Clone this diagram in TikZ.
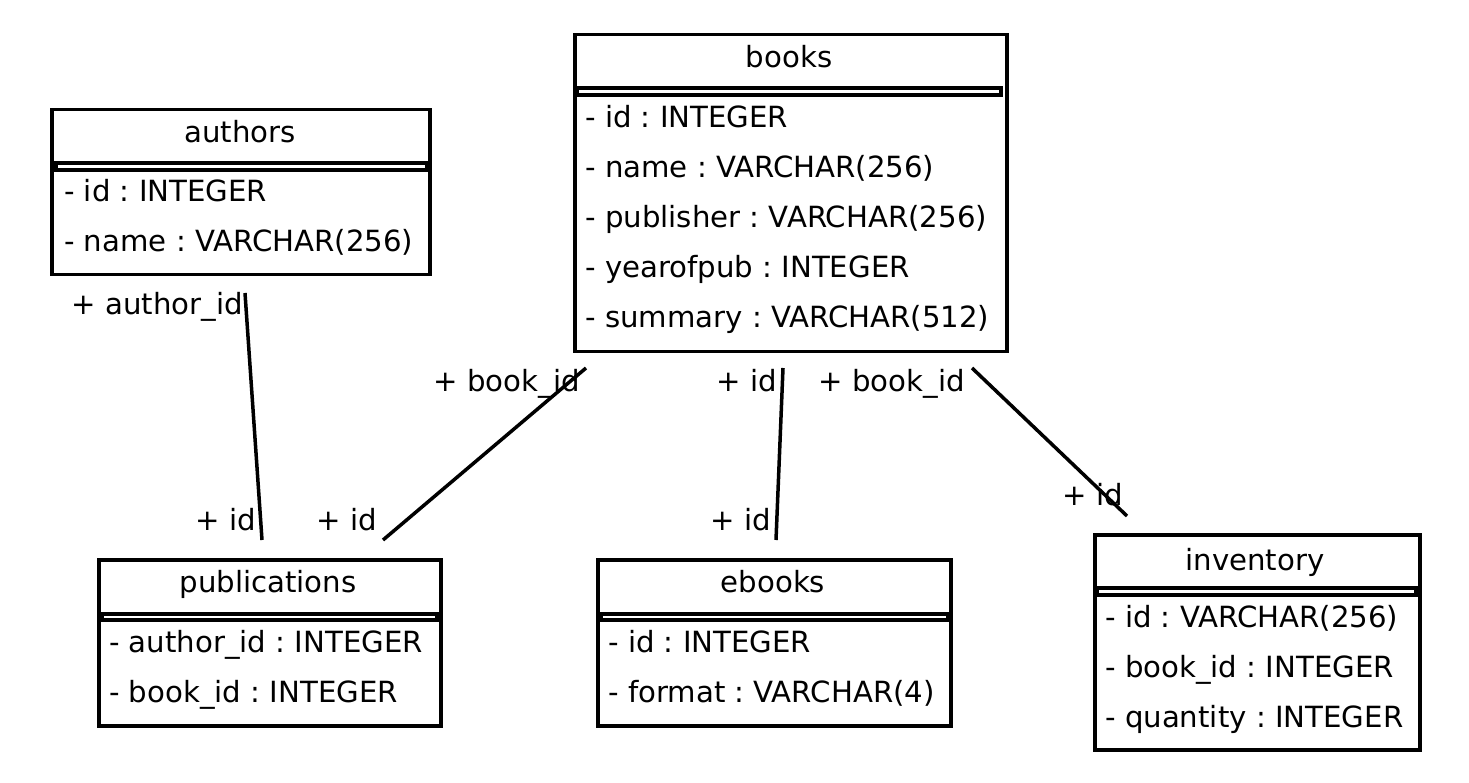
\documentclass[tikz,border=0pt]{standalone}
\usepackage{fontspec}
\setmainfont{DejaVu Sans}
\frenchspacing
\begin{document}
\begin{tikzpicture}[x=1pt,y=-1pt,
  tbl/.style={draw, line width=3.5pt, anchor=north west, inner sep=0pt, fill=white},
  bar/.style={draw, line width=3.5pt, fill=white},
  ttl/.style={inner sep=0pt, font=\fontsize{29.2}{32}\selectfont, anchor=base},
  row/.style={ttl, anchor=base west},
  lbl/.style={ttl, anchor=base east},
  conn/.style={line width=3.5pt}
]
\useasboundingbox (0,0) rectangle (1469,783);
\fill[white] (0,0) rectangle (1469,783);

% books
\node[tbl, minimum width=432pt, minimum height=317pt] (books) at (573,33) {};
\draw[bar] (577,88) rectangle (1001,95);
\node[ttl] (booksT) at (789,68) {books};
\node[row] (books1) at (585,128) {- id : INTEGER};
\node[row] (books2) at (585,178) {- name : VARCHAR(256)};
\node[row] (books3) at (585,228) {- publisher : VARCHAR(256)};
\node[row] (books4) at (585,278) {- yearofpub : INTEGER};
\node[row] (books5) at (585,328) {- summary : VARCHAR(512)};

% authors
\node[tbl, minimum width=378pt, minimum height=165pt] (authors) at (50,108) {};
\draw[bar] (56,163) rectangle (427,170);
\node[ttl] (authorsT) at (240,143) {authors};
\node[row] (authors1) at (64,202) {- id : INTEGER};
\node[row] (authors2) at (64,252) {- name : VARCHAR(256)};

% publications
\node[tbl, minimum width=342pt, minimum height=166pt] (pub) at (97,558) {};
\draw[bar] (102,614) rectangle (437,620);
\node[ttl] (pubT) at (268,592) {publications};
\node[row] (pub1) at (109,652) {- author\_id : INTEGER};
\node[row] (pub2) at (109,702) {- book\_id : INTEGER};

% ebooks
\node[tbl, minimum width=353pt, minimum height=166pt] (ebooks) at (596,558) {};
\draw[bar] (601,614) rectangle (948,620);
\node[ttl] (ebooksT) at (773,592) {ebooks};
\node[row] (ebooks1) at (608,652) {- id : INTEGER};
\node[row] (ebooks2) at (608,702) {- format : VARCHAR(4)};

% inventory
\node[tbl, minimum width=325pt, minimum height=215pt] (inv) at (1093,533) {};
\draw[bar] (1097,588) rectangle (1416,595);
\node[ttl] (invT) at (1255,570) {inventory};
\node[row] (inv1) at (1105,627) {- id : VARCHAR(256)};
\node[row] (inv2) at (1105,677) {- book\_id : INTEGER};
\node[row] (inv3) at (1105,727) {- quantity : INTEGER};

% connector ends
\coordinate (a1) at (245,293);
\coordinate (a2) at (262,540);
\coordinate (b1) at (586,368);
\coordinate (b2) at (383,540);
\coordinate (c1) at (783,368);
\coordinate (c2) at (776,540);
\coordinate (d1) at (972,368);
\coordinate (d2) at (1127,516);

\draw[conn] (a1) -- (a2);
\draw[conn] (b1) -- (b2);
\draw[conn] (c1) -- (c2);
\draw[conn] (d1) -- (d2);

% labels
\node[lbl] (la1) at (243,315) {+ author\_id};
\node[lbl] (la2) at (256,530) {+ id};
\node[lbl] (lb1) at (580,391) {+ book\_id};
\node[lbl] (lb2) at (377,530) {+ id};
\node[lbl] (lc1) at (777,391) {+ id};
\node[lbl] (lc2) at (771,530) {+ id};
\node[lbl] (ld1) at (965,391) {+ book\_id};
\node[lbl] (ld2) at (1123,505) {+ id};
\end{tikzpicture}
\end{document}
